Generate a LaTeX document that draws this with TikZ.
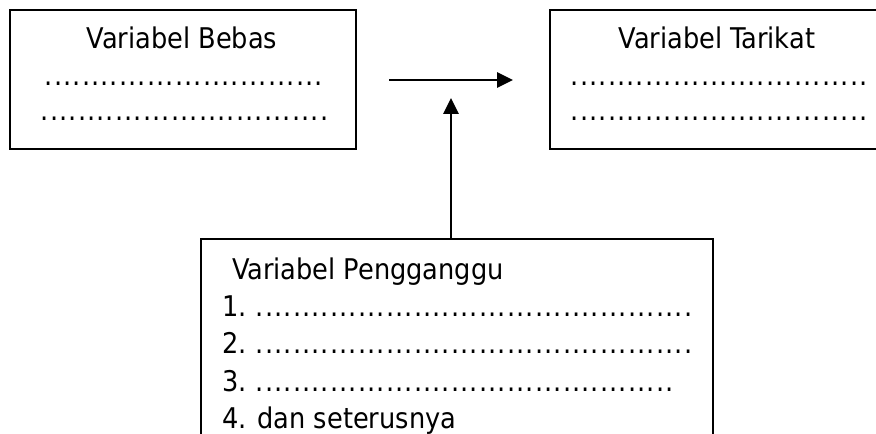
\documentclass[tikz,border=0pt]{standalone}
\usepackage{fontspec}
\setmainfont{DejaVu Sans Condensed}
\usetikzlibrary{arrows.meta}
\newcommand\dotrow[1]{\hbox{\xleaders\hbox to 9.3bp{\hss.\hss}\hskip \dimexpr 9.3bp*#1\relax}}
\tikzset{
  box/.style={draw, line width=1.8bp, rectangle, inner sep=0pt},
  txt/.style={inner sep=0pt, font=\fontsize{28.5bp}{34bp}\selectfont},
  arr/.style={line width=2.8bp, -{Triangle[length=16bp,width=15bp]}}
}
\begin{document}
\begin{tikzpicture}[x=1bp,y=-1bp]
\useasboundingbox (0,0) rectangle (876,434);
\clip (0,0) rectangle (876,434);
\fill[white] (0,0) rectangle (876,434);
% boxes
\node[box, minimum width=346bp, minimum height=139bp] (bebas) at (183,79.5) {};
\node[box, minimum width=340bp, minimum height=139bp] (tarikat) at (720,79.5) {};
\node[box, minimum width=512bp, minimum height=221bp] (ganggu) at (457,349.5) {};
% left box text
\node[txt, anchor=base] (tb) at (182,49) {Variabel Bebas};
\node[txt, anchor=base west] (b1) at (44,86) {\dotrow{30}};
\node[txt, anchor=base west] (b2) at (40,121) {\dotrow{31}};
% right box text
\node[txt, anchor=base] (tt) at (717,49) {Variabel Tarikat};
\node[txt, anchor=base west] (t1) at (570,86) {\dotrow{32}};
\node[txt, anchor=base west] (t2) at (570,121) {\dotrow{32}};
% bottom box text
\node[txt, anchor=base west] (tg) at (232,280) {Variabel Pengganggu};
\node[txt, anchor=base west] (n1) at (222,317) {1.};
\node[txt, anchor=base west] (d1) at (255,317) {\dotrow{47}};
\node[txt, anchor=base west] (n2) at (222,354) {2.};
\node[txt, anchor=base west] (d2) at (255,354) {\dotrow{47}};
\node[txt, anchor=base west] (n3) at (222,391) {3.};
\node[txt, anchor=base west] (d3) at (255,391) {\dotrow{45}};
\node[txt, anchor=base west] (n4) at (222,428) {4. dan seterusnya};
% arrows
\coordinate (hs) at (389,80);
\coordinate (he) at (513,80);
\draw[arr] (hs) -- (he);
\coordinate (vt) at (451,98);
\draw[arr] (vt |- ganggu.north) -- (vt);
\end{tikzpicture}
\end{document}
